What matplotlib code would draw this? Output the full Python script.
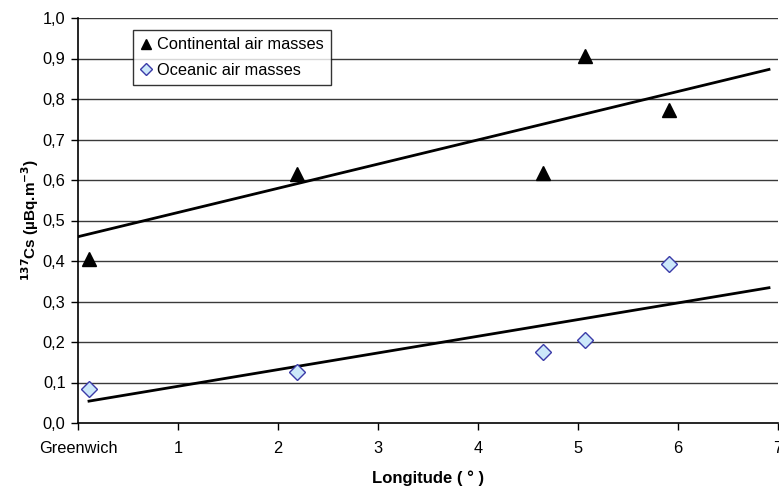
import matplotlib.pyplot as plt
from matplotlib.ticker import FixedLocator

plt.rcParams['font.family'] = ['Liberation Sans', 'DejaVu Sans']

# donnees
longitude = [0.11, 2.19, 4.65, 5.07, 5.91]
continental = [0.405, 0.615, 0.617, 0.905, 0.773]
oceanic = [0.084, 0.125, 0.175, 0.205, 0.393]

# droites de tendance (extremites)
cont_trend_x = [0.0, 6.91]
cont_trend_y = [0.46, 0.873]
ocean_trend_x = [0.11, 6.91]
ocean_trend_y = [0.054, 0.334]

x_ticks = [0, 1, 2, 3, 4, 5, 6, 7]
x_labels = ['Greenwich', '1', '2', '3', '4', '5', '6', '7']
y_ticks = [i / 10 for i in range(11)]
y_labels = ['%.1f' % v for v in y_ticks]
y_labels = [s.replace('.', ',') for s in y_labels]

fig = plt.figure(figsize=(7.79, 4.88), dpi=100)
ax = fig.add_axes([78 / 779, 1 - 423 / 488, 700 / 779, 405 / 488])

for v in y_ticks[1:]:
    ax.axhline(v, color='#3a3a3a', lw=1.0, zorder=1)

ax.plot(cont_trend_x, cont_trend_y, color='black', lw=2, zorder=2)
ax.plot(ocean_trend_x, ocean_trend_y, color='black', lw=2, zorder=2)

ax.plot(longitude, continental, linestyle='none', marker='^', markersize=10,
        color='black', label='Continental air masses', zorder=3)
ax.plot(longitude, oceanic, linestyle='none', marker='D', markersize=8,
        markerfacecolor='#cce8fa', markeredgecolor='#3b3ba8', markeredgewidth=1,
        label='Oceanic air masses', zorder=3)

ax.set_xlim(0, 7)
ax.set_ylim(0, 1.0)
ax.xaxis.set_major_locator(FixedLocator(x_ticks))
ax.set_xticklabels(x_labels)
ax.yaxis.set_major_locator(FixedLocator(y_ticks))
ax.set_yticklabels(y_labels)
ax.tick_params(axis='both', direction='out', length=5, width=1, labelsize=11.8,
               colors='black', pad=4)
ax.tick_params(axis='x', pad=8)

for s in ['top', 'right']:
    ax.spines[s].set_visible(False)
for s in ['left', 'bottom']:
    ax.spines[s].set_linewidth(1.2)

ax.set_xlabel('Longitude ( ° )', fontsize=12, fontweight='bold', labelpad=10)
ax.set_ylabel(r'$\mathbf{^{137}}$Cs (µBq.m$\mathbf{^{-3}}$)', fontsize=11,
              fontweight='bold', labelpad=1)

leg = ax.legend(loc='upper left', bbox_to_anchor=(55 / 700, 1 - 12 / 405),
                frameon=True, fancybox=False, fontsize=11.8, handlelength=0.7,
                handletextpad=0.3, borderpad=0.45, labelspacing=0.65,
                markerscale=0.75, borderaxespad=0)
leg.get_frame().set_edgecolor('black')
leg.get_frame().set_linewidth(1.0)

fig.savefig('out.png', dpi=100)
